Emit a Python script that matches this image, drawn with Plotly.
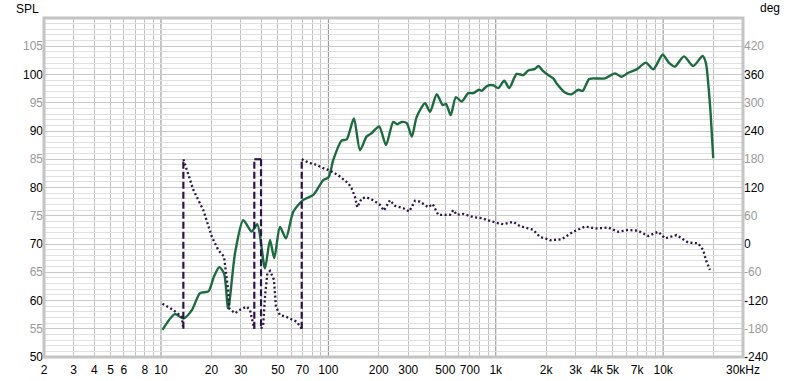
import plotly.graph_objects as go

# ---------------- data ----------------
spl_freq = [10.2, 12.1, 13.6, 15.3, 17.1, 19.2, 20.7, 22.3, 23.8, 25.2, 27.7, 31.0, 34.8, 37.6,
            41.8, 44.8, 47.5, 51.4, 55.8, 61.7, 70.8, 81.3, 93.2, 100.3, 107, 120, 128.6, 142,
            154.5, 169, 181, 201, 221, 244, 258, 274, 294, 315, 337, 378, 405, 444, 482, 504,
            538, 578, 626, 685, 734, 794, 824, 890, 966, 1035, 1124, 1204, 1333, 1460, 1564,
            1715, 1795, 1906, 2059, 2205, 2311, 2591, 2841, 3111, 3304, 3618, 4006, 4490, 5152,
            5649, 6186, 6946, 7894, 8729, 9932, 10875, 11761, 13313, 15130, 17219, 18018, 18597,
            19220, 19925]
spl_db = [54.8, 57.6, 56.8, 58.3, 61.3, 61.6, 64.2, 65.9, 64.8, 58.6, 68.4, 74.2, 72.2, 73.5,
          65.7, 70.7, 67.5, 73.0, 71.0, 75.7, 77.8, 78.7, 81.3, 81.8, 84.9, 88.3, 88.5, 92.2,
          86.6, 89.0, 89.6, 90.8, 87.5, 91.6, 91.2, 91.6, 91.4, 89.0, 92.5, 94.9, 93.4, 96.5,
          94.6, 94.8, 92.8, 96.0, 95.2, 96.7, 96.7, 97.3, 97.1, 98.0, 98.1, 97.6, 98.9, 97.6,
          100.1, 99.9, 100.7, 101.0, 101.5, 100.7, 99.9, 99.3, 98.4, 96.8, 96.5, 97.3, 97.1,
          99.2, 99.3, 99.3, 100.2, 99.6, 100.3, 100.9, 102.1, 100.9, 103.5, 102.0, 101.4,
          103.2, 101.5, 103.3, 102.0, 98.4, 93.1, 85.2]

phase_freq = [10.2, 11.8, 13.3, 13.6,
              13.6, 15.6, 17.9, 20.1, 22.0, 23.8, 25.2, 25.6, 27.7, 29.9, 32.5, 34.0, 36.1,
              36.1, 39.6,
              39.6, 40.8, 41.8, 43.2, 44.8, 47.3, 48.6, 51.4, 56.3, 64.7, 69.3,
              69.3, 75.9, 85.1, 93.2, 102.2, 114.6, 131.5, 137.8, 144.2, 148.8, 158.1, 169.3,
              185.4, 203.3, 214.8, 233.3, 249.9, 280.3, 304.2, 329.1, 352.5, 395.3, 419.8,
              453.5, 497.4, 532.6, 557.3, 583.9, 639.5, 734, 824, 882.4, 1012, 1109, 1272, 1395,
              1675, 1837, 2059, 2108, 2476, 2904, 3411, 4006, 4699, 5393, 6186, 7101, 8147,
              9348, 10250, 12038, 14125, 16210, 17364, 18018, 19036]
phase_deg = [-127, -140, -154, -180,
             180, 115, 72, 16, -13, -27, -98, -137, -147, -139, -133, -140, -180,
             180, 180,
             -180, -172, -112, -62, -57, -76, -133, -151, -155, -165, -180,
             180, 173, 168, 161, 156, 146, 129, 118, 100, 78, 97, 99,
             93, 83, 71, 93, 81, 76, 69, 92, 90, 78, 85,
             62, 62, 62, 72, 62, 64, 57, 55, 51, 45, 42, 47, 38,
             30, 15, 10, 8, 10, 26, 37, 33, 35, 26, 30, 28, 17,
             26, 12, 19, 3, 1.5, -13, -34, -55]

x_tick_vals = [2, 3, 4, 5, 6, 8, 10, 20, 30, 50, 70, 100, 200, 300, 500, 700,
               1000, 2000, 3000, 4000, 5000, 7000, 10000, 30000]
x_tick_text = ["2", "3", "4", "5", "6", "8", "10", "20", "30", "50", "70", "100", "200", "300",
               "500", "700", "1k", "2k", "3k", "4k", "5k", "7k", "10k", "30kHz"]
spl_ticks = [50, 55, 60, 65, 70, 75, 80, 85, 90, 95, 100, 105]
deg_ticks = [-240, -180, -120, -60, 0, 60, 120, 180, 240, 300, 360, 420]
decades = [10, 100, 1000, 10000]

# ---------------- styles ----------------
GREEN = "#1c6b3f"
PURPLE = "#2d1347"
FONT = "Liberation Sans"
MAJ = "#000000"
MIN = "#999999"

# minor grid positions (integer multiples within each decade)
minor_x = []
for dec in [1, 10, 100, 1000, 10000]:
    for m in range(1, 10):
        v = dec * m
        if 2 <= v <= 30000 and m != 1:
            minor_x.append(v)

# split phase into dotted runs and dashed wrap connectors
dot_x, dot_y, dash_x, dash_y = [], [], [], []
for i in range(len(phase_freq) - 1):
    a, b = phase_deg[i], phase_deg[i + 1]
    wrap = abs(b - a) > 180 or (abs(a) >= 180 and abs(b) >= 180)
    if wrap:
        dash_x += [phase_freq[i], phase_freq[i + 1], None]
        dash_y += [a, b, None]
        dot_x.append(None)
        dot_y.append(None)
    else:
        if not dot_x or dot_x[-1] is None or dot_x[-1] != phase_freq[i] or dot_y[-1] != a:
            dot_x.append(phase_freq[i])
            dot_y.append(a)
        dot_x.append(phase_freq[i + 1])
        dot_y.append(b)

fig = go.Figure()
fig.add_trace(go.Scatter(x=dot_x, y=dot_y, yaxis="y2", mode="lines",
                         line=dict(color=PURPLE, width=2.3, dash="2px,2.5px"),
                         connectgaps=False, hoverinfo="skip"))
fig.add_trace(go.Scatter(x=dash_x, y=dash_y, yaxis="y2", mode="lines",
                         line=dict(color=PURPLE, width=2.2, dash="7px,3px"),
                         connectgaps=False, hoverinfo="skip"))
fig.add_trace(go.Scatter(x=spl_freq, y=spl_db, mode="lines",
                         line=dict(color=GREEN, width=2.4, shape="spline", smoothing=0.7),
                         hoverinfo="skip"))

def colored(vals, fmt, step):
    out = []
    for v in vals:
        c = MAJ if (v % step == 0) else MIN
        out.append(f"<span style='color:{c}'>{fmt(v)}</span>")
    return out

shapes = []
for d in decades:
    shapes.append(dict(type="line", xref="x", yref="paper", x0=d, x1=d, y0=0, y1=1,
                       line=dict(color="#8c8c8c", width=1), layer="between"))
shapes.append(dict(type="rect", xref="paper", yref="paper", x0=0, x1=1, y0=0, y1=1,
                   line=dict(color="#c4c4c4", width=3), layer="above"))

fig.update_layout(
    width=800, height=381,
    margin=dict(l=44, r=57, t=18, b=24, autoexpand=False),
    paper_bgcolor="white", plot_bgcolor="white",
    showlegend=False,
    font=dict(family=FONT, size=12, color="#000"),
    xaxis=dict(type="log", range=[0.30103, 4.47712], tickmode="array",
               tickvals=x_tick_vals, ticktext=x_tick_text, showgrid=False, zeroline=False,
               ticks="", showline=False, tickfont=dict(size=12, color="#000"),
               ticklabelstandoff=4, automargin=False,
               minor=dict(tickmode="array", tickvals=minor_x, showgrid=True,
                          gridcolor="#c2c2c2", gridwidth=1, ticks="")),
    yaxis=dict(range=[50, 110], tickmode="array", tickvals=spl_ticks,
               ticktext=colored(spl_ticks, lambda v: str(v), 10),
               showgrid=True, gridcolor="#c8c8c8", zeroline=False, ticks="", showline=False,
               tickfont=dict(size=12), automargin=False,
               minor=dict(dtick=1, showgrid=True, gridcolor="#e0e0e0", ticks="")),
    yaxis2=dict(range=[-240, 480], overlaying="y", side="right", tickmode="array",
                tickvals=deg_ticks, ticktext=colored(deg_ticks, lambda v: str(v), 120),
                showgrid=False, zeroline=False, ticks="", showline=False,
                tickfont=dict(size=12), automargin=False),
    shapes=shapes,
    annotations=[
        dict(text="SPL", xref="paper", yref="paper", x=-0.024, y=1.0, yshift=9,
             xanchor="center", yanchor="middle", showarrow=False,
             font=dict(size=12, color="#000")),
        dict(text="deg", xref="paper", yref="paper", x=1.0, xshift=15, y=1.0, yshift=10,
             xanchor="left", yanchor="middle", showarrow=False,
             font=dict(size=12, color="#000")),
    ],
    hovermode=False,
)

fig.write_html("out.html")
